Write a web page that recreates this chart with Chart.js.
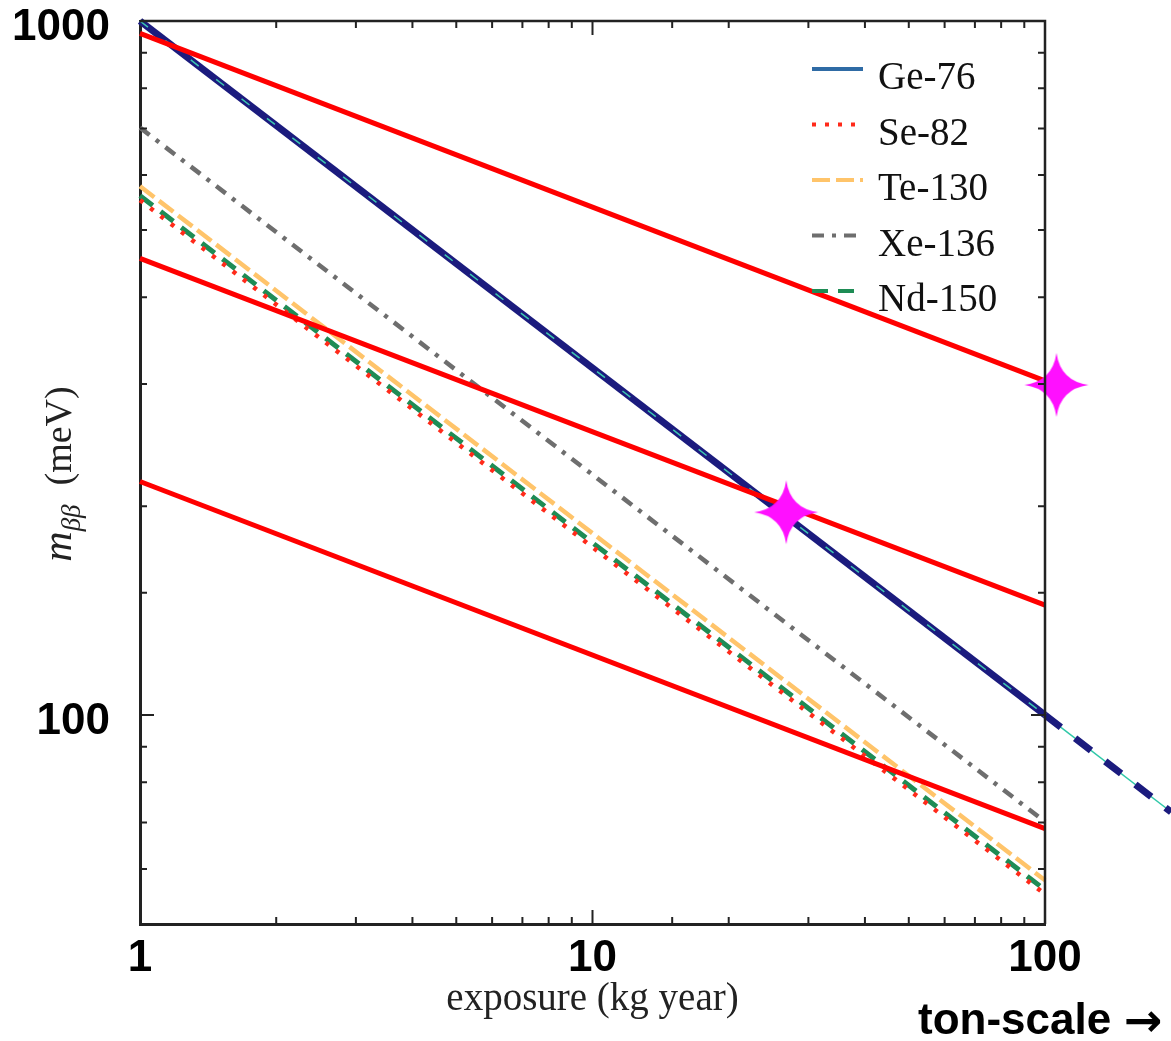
<!DOCTYPE html>
<html>
<head>
<meta charset="utf-8">
<script src="https://cdn.jsdelivr.net/npm/chart.js@4/dist/chart.umd.min.js"></script>
<style>
 body{margin:0;background:#fff;}
 canvas{display:block;}
</style>
</head>
<body>
<canvas id="myChart" width="1171" height="1041"></canvas>
<script>
// exposure (kg year) -> m_bb sensitivity (meV), straight lines on log-log
var exposure = [1, 100];
var ge76  = [1000, 100];
var se82  = [552, 55.2];
var te130 = [578, 57.8];
var xe136 = [702, 70.2];
var nd150 = [560, 56];

// Ge-76 continued past 100 kg year (ton-scale)
var geTonX = [100, 190];
var geTonY = [100, 72.5];

// red lines
var limitA = [960, 303];
var limitB = [455, 144];
var limitC = [217, 68.6];

// magenta stars
var starX = [26.8, 106];
var starY = [196, 299];

var xTickLabels = [1, 10, 100];
var yTickLabels = [100, 1000];
var isotopes = ["Ge-76", "Se-82", "Te-130", "Xe-136", "Nd-150"];

function pts(xs, ys){
  return xs.map(function(x, i){ return {x: x, y: ys[i]}; });
}
function hasVal(list, v){
  for (var i=0;i<list.length;i++){ if (Math.abs(list[i]-v) < 1e-6*list[i]) return true; }
  return false;
}

function makeStar(r, color){
  var c = document.createElement('canvas');
  c.width = 2*r+2; c.height = 2*r+2;
  var g = c.getContext('2d');
  g.translate(r+1, r+1);
  g.fillStyle = color;
  g.beginPath();
  g.moveTo(0, -r);
  g.quadraticCurveTo(4, -4, r, 0);
  g.quadraticCurveTo(4, 4, 0, r);
  g.quadraticCurveTo(-4, 4, -r, 0);
  g.quadraticCurveTo(-4, -4, 0, -r);
  g.closePath();
  g.fill();
  return c;
}
var star = makeStar(32, '#ff10ff');

function lineSet(label, xs, ys, color, width, dash){
  return {
    label: label,
    data: pts(xs, ys),
    borderColor: color,
    backgroundColor: color,
    borderWidth: width,
    borderDash: dash || [],
    pointRadius: 0,
    fill: false,
    tension: 0,
    clip: false
  };
}

var datasets = [
  {
    label: 'stars',
    data: pts(starX, starY),
    showLine: false,
    pointStyle: star,
    pointRadius: 34,
    borderWidth: 0,
    clip: false
  },
  lineSet('limitA', exposure, limitA, '#ff0000', 5),
  lineSet('limitB', exposure, limitB, '#ff0000', 5),
  lineSet('limitC', exposure, limitC, '#ff0000', 5),
  lineSet('geTonDash', geTonX, geTonY, '#1b1b7e', 7, [20, 18]),
  lineSet('geTonThin', geTonX, geTonY, '#30c8a8', 1.5),
  lineSet('geThin', exposure, ge76, '#3cc8b0', 1.5, [10, 22]),
  lineSet('Ge-76', exposure, ge76, '#1b1b7e', 7),
  lineSet('Se-82', exposure, se82, '#ff2a1a', 4.5, [4, 9]),
  lineSet('Nd-150', exposure, nd150, '#1e8c55', 5, [16, 10]),
  lineSet('Te-130', exposure, te130, '#ffc46a', 4.5, [18, 6]),
  lineSet('Xe-136', exposure, xe136, '#6e6e6e', 4.5, [12, 8, 4, 8])
];
datasets[7].legendColor = '#2f6ba5';

var extras = {
  id: 'extras',
  afterDatasetsDraw: function(chart){
    var ctx = chart.ctx, a = chart.chartArea;
    var xs = chart.scales.x, ys = chart.scales.y;
    ctx.save();
    ctx.strokeStyle = '#222';
    ctx.lineWidth = 2.5;
    // top and right frame
    ctx.beginPath();
    ctx.moveTo(a.left, a.top); ctx.lineTo(a.right, a.top); ctx.lineTo(a.right, a.bottom);
    ctx.stroke();
    // inward ticks
    ctx.lineWidth = 2;
    xs.ticks.forEach(function(t){
      var px = xs.getPixelForValue(t.value);
      if (px <= a.left + 1 || px >= a.right - 1) return;
      var major = Math.abs(Math.log10(t.value) - Math.round(Math.log10(t.value))) < 1e-9;
      var len = major ? 14 : 7;
      ctx.beginPath();
      ctx.moveTo(px, a.bottom); ctx.lineTo(px, a.bottom - len);
      ctx.moveTo(px, a.top); ctx.lineTo(px, a.top + len);
      ctx.stroke();
    });
    ys.ticks.forEach(function(t){
      var py = ys.getPixelForValue(t.value);
      if (py <= a.top + 1 || py >= a.bottom - 1) return;
      var major = Math.abs(Math.log10(t.value) - Math.round(Math.log10(t.value))) < 1e-9;
      var len = major ? 14 : 7;
      ctx.beginPath();
      ctx.moveTo(a.left, py); ctx.lineTo(a.left + len, py);
      ctx.moveTo(a.right, py); ctx.lineTo(a.right - len, py);
      ctx.stroke();
    });
    ctx.restore();
  },
  afterDraw: function(chart){
    var ctx = chart.ctx;
    ctx.save();
    // legend
    var y0 = 69, step = 55.5;
    isotopes.forEach(function(name, i){
      var ds = chart.data.datasets.find(function(d){ return d.label === name; });
      var y = y0 + i*step;
      ctx.strokeStyle = ds.legendColor || ds.borderColor;
      ctx.lineWidth = 4;
      ctx.setLineDash(ds.borderDash);
      ctx.beginPath();
      ctx.moveTo(812, y); ctx.lineTo(863, y);
      ctx.stroke();
      ctx.setLineDash([]);
      ctx.fillStyle = '#111';
      ctx.font = '39px "Liberation Serif"';
      ctx.textBaseline = 'alphabetic';
      ctx.fillText(name, 878, y + 20);
    });
    // y title: m_bb (meV)
    ctx.translate(58, 474);
    ctx.rotate(-Math.PI/2);
    ctx.fillStyle = '#222';
    var f1 = 'italic 42px "Liberation Serif"', f2 = 'italic 27px "Liberation Serif"', f3 = '38px "Liberation Serif"';
    ctx.font = f1; var w1 = ctx.measureText('m').width;
    ctx.font = f2; var w2 = ctx.measureText('\u03b2\u03b2').width;
    ctx.font = f3; var w3 = ctx.measureText('  (meV)').width;
    var x = -(w1 + w2 + w3)/2;
    ctx.font = f1; ctx.fillText('m', x, 13); x += w1;
    ctx.font = f2; ctx.fillText('\u03b2\u03b2', x, 22); x += w2;
    ctx.font = f3; ctx.fillText('  (meV)', x, 13);
    ctx.restore();
    // ton-scale arrow
    ctx.save();
    ctx.fillStyle = '#000';
    ctx.font = 'bold 44px "Liberation Sans"';
    ctx.fillText('ton-scale', 918, 1034);
    ctx.font = 'bold 46px "DejaVu Sans"';
    ctx.fillText('\u2192', 1124, 1036);
    ctx.restore();
  }
};

var ctx = document.getElementById('myChart').getContext('2d');
var myChart = new Chart(ctx, {
  type: 'line',
  data: { datasets: datasets },
  options: {
    responsive: false,
    animation: false,
    layout: { autoPadding: false, padding: { left: 0, right: 126, top: 21, bottom: 0 } },
    plugins: { legend: { display: false }, tooltip: { enabled: false } },
    scales: {
      x: {
        type: 'logarithmic',
        min: 1, max: 100,
        afterFit: function(s){ s.height = 117; s.paddingLeft = 0; s.paddingRight = 0; },
        grid: { display: false, drawTicks: false },
        border: { display: true, color: '#222', width: 3 },
        ticks: {
          autoSkip: false, maxRotation: 0, padding: 8,
          color: '#000',
          font: { family: '"Liberation Sans"', size: 44, weight: 'bold' },
          callback: function(v){ return hasVal(xTickLabels, v) ? String(v) : ''; }
        },
        title: {
          display: true, text: 'exposure (kg year)', color: '#222',
          font: { family: '"Liberation Serif"', size: 39 },
          padding: { top: 0, bottom: 18 }
        }
      },
      y: {
        type: 'logarithmic',
        min: 50, max: 1000,
        afterFit: function(s){ s.width = 140; s.paddingTop = 0; s.paddingBottom = 0; },
        grid: { display: false, drawTicks: false },
        border: { display: true, color: '#222', width: 3 },
        ticks: {
          autoSkip: false, padding: 30, labelOffset: 7,
          color: '#000',
          font: { family: '"Liberation Sans"', size: 44, weight: 'bold' },
          callback: function(v){ return hasVal(yTickLabels, v) ? String(v) : ''; }
        }
      }
    }
  },
  plugins: [extras]
});
</script>
</body>
</html>
